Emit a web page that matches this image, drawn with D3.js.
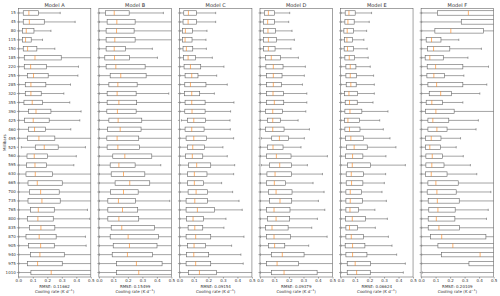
<!DOCTYPE html>
<html>
<head>
<meta charset="utf-8">
<script src="https://cdn.jsdelivr.net/npm/d3@7"></script>
<style>
    html, body { margin: 0; padding: 0; background: #fff; }
    svg text { font-family: "DejaVu Sans", sans-serif; fill: #333; }
    .axis text { font-size: 4px; }
    .axis .domain { display: none; }
    .axis line { stroke: #555; stroke-width: 0.5; }
    .title { font-size: 5px; }
    .small { font-size: 4px; }
</style>
</head>
<body>
<div id="main"></div>
<script>
// pressure levels, top to bottom
var levels = [15, 45, 80, 115, 150, 185, 220, 255, 285, 320, 355, 390, 425, 460, 495,
              525, 560, 595, 630, 665, 700, 735, 765, 800, 835, 870, 905, 940, 975, 1010];
var models = ["Model A", "Model B", "Model C", "Model D", "Model E", "Model F"];
var rmse = ["0.11662", "0.15499", "0.09154", "0.09379", "0.06624", "0.20109"];
var xTicks = [0.0, 0.1, 0.2, 0.3, 0.4, 0.5];

// each row: [whisker low, q1, median, q3, whisker high]
var modelA = [
    [.004,.034,.073,.138,.289],[.004,.034,.076,.179,.392],[.004,.028,.055,.108,.225],
    [.004,.028,.050,.089,.167],[.004,.034,.064,.128,.252],[.004,.041,.115,.296,.600],
    [.004,.041,.085,.193,.415],[.004,.062,.105,.206,.411],[.004,.048,.087,.190,.360],
    [.004,.048,.087,.158,.314],[.004,.039,.096,.167,.355],[.004,.071,.122,.225,.433],
    [.004,.044,.103,.213,.424],[.004,.069,.112,.188,.362],[.004,.062,.142,.252,.600],
    [.021,.117,.179,.275,.463],[.004,.060,.110,.202,.400],[.004,.057,.115,.193,.383],
    [.004,.053,.117,.236,.600],[.004,.067,.131,.303,.600],[.004,.076,.154,.282,.600],
    [.004,.067,.163,.289,.600],[.004,.083,.138,.248,.477],[.004,.062,.135,.241,.493],
    [.004,.076,.156,.252,.600],[.004,.053,.144,.261,.463],[.004,.071,.154,.248,.468],
    [.004,.083,.149,.317,.600],[.004,.062,.133,.303,.600],[.004,.087,.227,.520,.700]
];
var modelB = [
    [.004,.046,.106,.209,.445],[.004,.057,.124,.250,.600],[.004,.050,.122,.243,.600],
    [.004,.050,.110,.250,.600],[.004,.050,.106,.183,.369],[.004,.041,.108,.211,.404],
    [.004,.050,.117,.319,.600],[.004,.078,.151,.326,.600],[.004,.069,.131,.264,.600],
    [.004,.057,.126,.257,.482],[.004,.057,.138,.261,.600],[.004,.055,.128,.257,.600],
    [.004,.069,.133,.296,.600],[.004,.060,.147,.291,.600],[.004,.055,.126,.275,.600],
    [.004,.057,.131,.280,.600],[.004,.096,.179,.365,.600],[.004,.078,.138,.250,.427],
    [.004,.085,.170,.317,.600],[.004,.112,.213,.351,.600],[.004,.080,.170,.271,.600],
    [.004,.062,.135,.252,.489],[.004,.062,.163,.268,.600],[.004,.062,.138,.275,.600],
    [.004,.085,.158,.383,.600],[.004,.078,.202,.411,.600],[.004,.099,.211,.401,.600],
    [.004,.092,.197,.369,.600],[.004,.122,.259,.436,.600],[.004,.122,.275,.520,.700]
];
var modelC = [
    [.004,.030,.062,.117,.250],[.004,.025,.060,.117,.250],[.004,.021,.041,.089,.190],
    [.004,.021,.039,.087,.183],[.004,.025,.048,.092,.186],[.004,.028,.060,.110,.227],
    [.004,.032,.076,.147,.307],[.004,.039,.085,.128,.257],[.004,.037,.076,.183,.330],
    [.004,.034,.085,.140,.241],[.004,.039,.085,.177,.376],[.004,.037,.087,.177,.353],
    [.014,.055,.099,.181,.349],[.004,.039,.085,.170,.351],[.004,.046,.099,.188,.374],
    [.004,.055,.092,.172,.300],[.004,.041,.089,.161,.330],[.004,.064,.119,.216,.381],
    [.004,.057,.103,.190,.374],[.004,.057,.103,.167,.291],[.004,.060,.115,.195,.367],
    [.004,.046,.106,.193,.411],[.004,.046,.124,.243,.433],[.004,.048,.094,.165,.321],
    [.004,.060,.106,.161,.307],[.004,.046,.112,.216,.445],[.004,.057,.101,.181,.360],
    [.004,.048,.099,.202,.424],[.004,.046,.112,.216,.440],[.004,.062,.138,.257,.600]
];
var modelD = [
    [.004,.030,.058,.101,.205],[.004,.023,.053,.099,.198],[.004,.023,.055,.106,.221],
    [.004,.023,.058,.113,.237],[.004,.025,.058,.104,.214],[.004,.037,.078,.141,.265],
    [.004,.041,.092,.159,.313],[.004,.046,.092,.152,.306],[.004,.046,.092,.147,.293],
    [.004,.044,.090,.161,.323],[.004,.044,.099,.164,.323],[.004,.037,.088,.154,.316],
    [.004,.051,.088,.140,.263],[.004,.037,.088,.166,.341],[.010,.081,.134,.196,.306],
    [.004,.051,.090,.159,.283],[.004,.046,.113,.214,.465],[.010,.065,.136,.217,.327],
    [.004,.048,.104,.217,.431],[.004,.044,.099,.177,.366],[.004,.058,.111,.221,.442],
    [.004,.067,.138,.219,.403],[.004,.044,.097,.207,.447],[.004,.051,.111,.205,.396],
    [.004,.039,.083,.194,.357],[.004,.044,.097,.210,.463],[.004,.058,.101,.171,.336],
    [.004,.078,.154,.304,.600],[.004,.044,.118,.267,.600],[.004,.078,.166,.394,.600]
];
var modelE = [
    [.004,.032,.058,.101,.214],[.004,.030,.051,.094,.198],[.004,.023,.046,.090,.180],
    [.004,.028,.044,.083,.161],[.004,.025,.048,.090,.184],[.004,.030,.060,.097,.191],
    [.004,.037,.067,.106,.205],[.004,.037,.067,.111,.228],[.004,.039,.071,.108,.233],
    [.004,.028,.058,.118,.233],[.004,.032,.062,.115,.224],[.004,.030,.065,.147,.327],
    [.004,.028,.051,.131,.270],[.004,.030,.062,.134,.295],[.004,.035,.071,.159,.341],
    [.004,.041,.094,.184,.382],[.004,.035,.083,.154,.313],[.004,.048,.081,.207,.447],
    [.004,.039,.074,.157,.311],[.004,.039,.076,.154,.302],[.004,.037,.067,.145,.286],
    [.004,.037,.067,.150,.316],[.004,.037,.065,.124,.237],[.004,.035,.081,.171,.323],
    [.004,.037,.062,.118,.240],[.004,.037,.074,.157,.330],[.004,.032,.083,.168,.355],
    [.004,.037,.083,.182,.387],[.004,.046,.101,.207,.447],[.004,.046,.111,.205,.433]
];
var modelF = [
    [.004,.112,.326,.520,.700],[.004,.277,.550,.700,.800],[.004,.095,.205,.430,.600],
    [.004,.035,.072,.137,.260],[.004,.044,.086,.198,.416],[.004,.028,.060,.153,.323],
    [.004,.042,.100,.288,.465],[.004,.040,.088,.160,.295],[.004,.047,.107,.288,.453],
    [.004,.056,.135,.209,.405],[.004,.035,.074,.147,.288],[.004,.030,.102,.228,.600],
    [.004,.047,.081,.191,.395],[.004,.047,.109,.179,.379],[.004,.030,.070,.137,.272],
    [.004,.030,.060,.133,.242],[.004,.033,.077,.147,.291],[.004,.033,.074,.158,.340],
    [.004,.030,.070,.179,.384],[.004,.047,.102,.256,.600],[.004,.042,.109,.242,.481],
    [.004,.049,.112,.263,.600],[.004,.053,.116,.235,.463],[.004,.049,.105,.233,.451],
    [.004,.049,.123,.265,.600],[.004,.065,.142,.447,.600],[.004,.116,.219,.520,.700],
    [.004,.140,.407,.600,.800],[.004,.330,.550,.700,.800],[.008,.550,.650,.750,.800]
];
var modelData = [modelA, modelB, modelC, modelD, modelE, modelF];

var width = 500, height = 296;
var plotTop = 8.5, plotBottom = 277;
var lineColor = "#666";

function main() {
    var svg = d3.select("#main").append("svg")
        .attr("width", width).attr("height", height);

    var panel = d3.scaleBand().domain(models).range([18.3, 493.6]).paddingInner(0.1);
    var y = d3.scaleBand().domain(levels).range([plotTop, plotBottom]);
    var boxH = y.bandwidth() * 0.5;
    var capH = boxH * 0.5;

    svg.append("text")
        .attr("class", "small")
        .attr("transform", "translate(6," + ((plotTop + plotBottom) / 2) + ") rotate(-90)")
        .style("text-anchor", "middle")
        .text("Millibars");

    models.forEach(function(name, i) {
        var x0 = panel(name);
        var x = d3.scaleLinear().domain([0, 0.5]).range([x0, x0 + panel.bandwidth()]);
        var g = svg.append("g");

        g.append("clipPath").attr("id", "clip" + i)
            .append("rect")
            .attr("x", x0).attr("y", plotTop)
            .attr("width", panel.bandwidth()).attr("height", plotBottom - plotTop);

        var boxes = g.append("g").attr("clip-path", "url(#clip" + i + ")")
            .selectAll("g").data(modelData[i]).enter().append("g")
            .attr("transform", function(d, j) { return "translate(0," + (y(levels[j]) + y.bandwidth() / 2) + ")"; });

        boxes.append("line")
            .attr("x1", function(d) { return x(d[0]); })
            .attr("x2", function(d) { return x(d[1]); })
            .attr("stroke", lineColor).attr("stroke-width", 0.6);
        boxes.append("line")
            .attr("x1", function(d) { return x(d[3]); })
            .attr("x2", function(d) { return x(d[4]); })
            .attr("stroke", lineColor).attr("stroke-width", 0.6);
        boxes.selectAll(".cap").data(function(d) { return [d[0], d[4]]; }).enter()
            .append("line")
            .attr("x1", function(v) { return x(v); })
            .attr("x2", function(v) { return x(v); })
            .attr("y1", -capH / 2).attr("y2", capH / 2)
            .attr("stroke", lineColor).attr("stroke-width", 0.6);
        boxes.append("rect")
            .attr("x", function(d) { return x(d[1]); })
            .attr("y", -boxH / 2)
            .attr("width", function(d) { return x(d[3]) - x(d[1]); })
            .attr("height", boxH)
            .attr("fill", "none").attr("stroke", lineColor).attr("stroke-width", 0.6);
        boxes.append("line")
            .attr("x1", function(d) { return x(d[2]); })
            .attr("x2", function(d) { return x(d[2]); })
            .attr("y1", -boxH / 2).attr("y2", boxH / 2)
            .attr("stroke", "#ff7f0e").attr("stroke-width", 0.6);

        g.append("rect")
            .attr("x", x0).attr("y", plotTop)
            .attr("width", panel.bandwidth()).attr("height", plotBottom - plotTop)
            .attr("fill", "none").attr("stroke", lineColor).attr("stroke-width", 0.6);

        g.append("g").attr("class", "axis")
            .attr("transform", "translate(0," + plotBottom + ")")
            .call(d3.axisBottom(x).tickValues(xTicks).tickFormat(d3.format(".1f"))
                .tickSize(1.5).tickPadding(1));

        g.append("g").attr("class", "axis")
            .attr("transform", "translate(" + x0 + ",0)")
            .call(d3.axisLeft(y).tickSize(1.5).tickPadding(1)
                .tickFormat(i === 0 ? function(d) { return d; } : function() { return ""; }));

        var cx = x0 + panel.bandwidth() / 2;
        g.append("text").attr("class", "title")
            .attr("x", cx).attr("y", 6.5)
            .style("text-anchor", "middle")
            .text(name);

        g.append("text").attr("class", "small")
            .attr("x", cx).attr("y", 288)
            .style("text-anchor", "middle")
            .text("RMSE: " + rmse[i]);

        var lab = g.append("text").attr("class", "small")
            .attr("x", cx).attr("y", 292.5)
            .style("text-anchor", "middle");
        lab.append("tspan").text("Cooling rate (K d");
        lab.append("tspan").attr("dy", -1.3).style("font-size", "2.8px").text("\u22121");
        lab.append("tspan").attr("dy", 1.3).text(")");
    });
}

main();
</script>
</body>
</html>
